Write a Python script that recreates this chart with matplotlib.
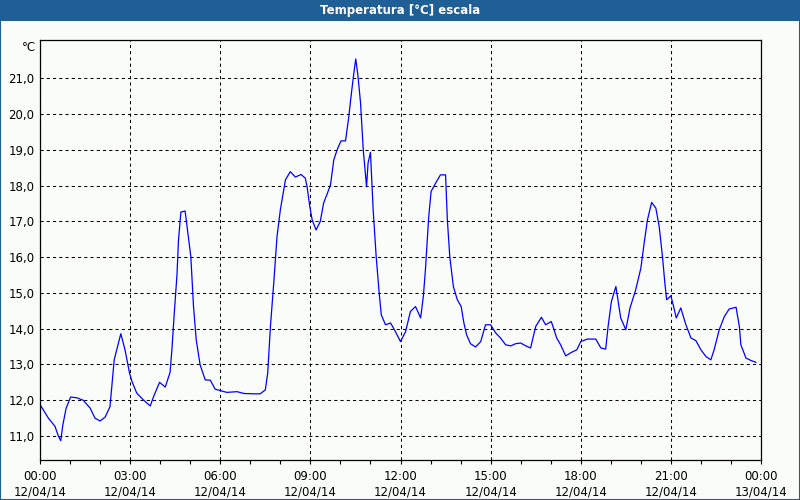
import matplotlib.pyplot as plt
from matplotlib.patches import Rectangle

# lecturas: hora del dia y temperatura
horas = [0.0, 0.28, 0.5, 0.61, 0.69, 0.76, 0.87, 1.02, 1.22, 1.44, 1.67, 1.83,
         2.0, 2.17, 2.33, 2.39, 2.47, 2.58, 2.69, 2.83, 2.98, 3.06, 3.22, 3.44,
         3.67, 3.78, 3.98, 4.17, 4.33, 4.39, 4.47, 4.56, 4.61, 4.69, 4.83, 4.91,
         5.02, 5.11, 5.2, 5.33, 5.5, 5.67, 5.83, 6.0, 6.22, 6.56, 6.78, 7.11,
         7.33, 7.5, 7.58, 7.67, 7.78, 7.89, 8.0, 8.17, 8.33, 8.5, 8.69, 8.83,
         8.89, 8.98, 9.06, 9.19, 9.33, 9.44, 9.56, 9.67, 9.78, 9.89, 10.02, 10.17,
         10.28, 10.36, 10.44, 10.51, 10.58, 10.67, 10.76, 10.87, 10.92, 11.0, 11.09, 11.19,
         11.29, 11.36, 11.5, 11.67, 11.83, 12.0, 12.17, 12.33, 12.5, 12.67, 12.76, 12.83,
         12.94, 13.02, 13.17, 13.33, 13.5, 13.56, 13.64, 13.76, 13.89, 14.02, 14.11, 14.2,
         14.33, 14.5, 14.67, 14.83, 15.0, 15.17, 15.33, 15.5, 15.67, 15.83, 16.0, 16.17,
         16.33, 16.5, 16.69, 16.83, 17.02, 17.2, 17.33, 17.5, 17.67, 17.87, 18.0, 18.22,
         18.5, 18.67, 18.83, 18.91, 19.02, 19.17, 19.33, 19.5, 19.64, 19.83, 20.0, 20.11,
         20.22, 20.36, 20.5, 20.61, 20.72, 20.8, 20.86, 21.0, 21.09, 21.18, 21.33, 21.5,
         21.67, 21.83, 22.0, 22.17, 22.33, 22.44, 22.61, 22.78, 22.94, 23.17, 23.28, 23.33,
         23.5, 23.67, 23.83]
temperatura = [11.88, 11.5, 11.27, 11.0, 10.87, 11.31, 11.78, 12.09, 12.07, 12.0, 11.78, 11.5,
               11.42, 11.53, 11.82, 12.38, 13.13, 13.5, 13.86, 13.41, 12.76, 12.53, 12.2, 12.01,
               11.84, 12.1, 12.5, 12.37, 12.78, 13.41, 14.44, 15.51, 16.48, 17.26, 17.29, 16.76,
               16.02, 14.62, 13.69, 12.99, 12.57, 12.56, 12.31, 12.27, 12.22, 12.24, 12.19, 12.18,
               12.18, 12.29, 12.76, 14.06, 15.27, 16.58, 17.32, 18.16, 18.39, 18.24, 18.31, 18.21,
               17.97, 17.42, 17.04, 16.76, 17.0, 17.51, 17.77, 18.02, 18.72, 19.0, 19.25, 19.25,
               19.93, 20.54, 21.1, 21.54, 21.1, 20.31, 19.0, 17.97, 18.63, 18.93, 17.32, 16.02,
               15.0, 14.39, 14.11, 14.16, 13.92, 13.64, 13.92, 14.48, 14.62, 14.3, 14.9, 15.65,
               17.14, 17.84, 18.07, 18.3, 18.3, 17.04, 16.02, 15.18, 14.81, 14.62, 14.16, 13.83,
               13.58, 13.49, 13.64, 14.11, 14.11, 13.88, 13.74, 13.55, 13.52, 13.58, 13.6, 13.52,
               13.46, 14.06, 14.32, 14.11, 14.2, 13.74, 13.55, 13.24, 13.33, 13.41, 13.64, 13.71,
               13.71, 13.46, 13.43, 14.06, 14.76, 15.18, 14.3, 13.97, 14.58, 15.09, 15.69, 16.39,
               17.04, 17.53, 17.37, 16.86, 16.02, 15.27, 14.81, 14.92, 14.62, 14.3, 14.58, 14.11,
               13.74, 13.67, 13.41, 13.22, 13.13, 13.41, 13.97, 14.34, 14.55, 14.6, 14.06, 13.55,
               13.18, 13.11, 13.06]

horas_ticks = [0, 3, 6, 9, 12, 15, 18, 21, 24]
etiquetas_x = ["00:00\n12/04/14", "03:00\n12/04/14", "06:00\n12/04/14", "09:00\n12/04/14",
               "12:00\n12/04/14", "15:00\n12/04/14", "18:00\n12/04/14", "21:00\n12/04/14",
               "00:00\n13/04/14"]
valores_y = [11, 12, 13, 14, 15, 16, 17, 18, 19, 20, 21]
etiquetas_y = ["11,0", "12,0", "13,0", "14,0", "15,0", "16,0", "17,0", "18,0", "19,0", "20,0", "21,0"]

fondo = "#fafcfa"
azul_barra = "#1f5f96"

fig = plt.figure(figsize=(8, 5), dpi=100, facecolor=fondo)
ax = fig.add_axes([40/800, 1 - 460/500, 721/800, 420/500], facecolor=fondo)

ax.plot(horas, temperatura, color="#0000ff", lw=0.9)

ax.set_xlim(0, 24)
ax.set_ylim(10.33, 22.07)
ax.set_xticks(horas_ticks)
ax.set_xticklabels(etiquetas_x, fontsize=8.5, linespacing=1.3)
ax.set_xticks(range(25), minor=True)
ax.set_yticks(valores_y)
ax.set_yticklabels(etiquetas_y, fontsize=8.5)
ax.tick_params(axis="x", which="both", length=3, width=0.8, pad=4, colors="black")
ax.tick_params(axis="y", length=0, pad=4)
ax.grid(True, color="black", lw=0.75, linestyle=(0, (3, 3)))
for s in ax.spines.values():
    s.set_color("black")
    s.set_linewidth(0.9)

fig.text(36/800, 1 - 41/500, "°C", ha="right", va="top", fontsize=8.5)

# barra del titulo y borde
fig.patches.append(Rectangle((0, 1 - 21/500), 1, 21/500, transform=fig.transFigure,
                             facecolor=azul_barra, edgecolor="none"))
fig.patches.append(Rectangle((0, 0), 1, 1, transform=fig.transFigure,
                             facecolor="none", edgecolor=azul_barra, lw=1.5))
fig.text(0.5, 1 - 10.5/500, "Temperatura [°C] escala", ha="center", va="center",
         color="white", fontsize=8.5, fontweight="bold")

plt.savefig("out.png", dpi=100, facecolor=fondo)
